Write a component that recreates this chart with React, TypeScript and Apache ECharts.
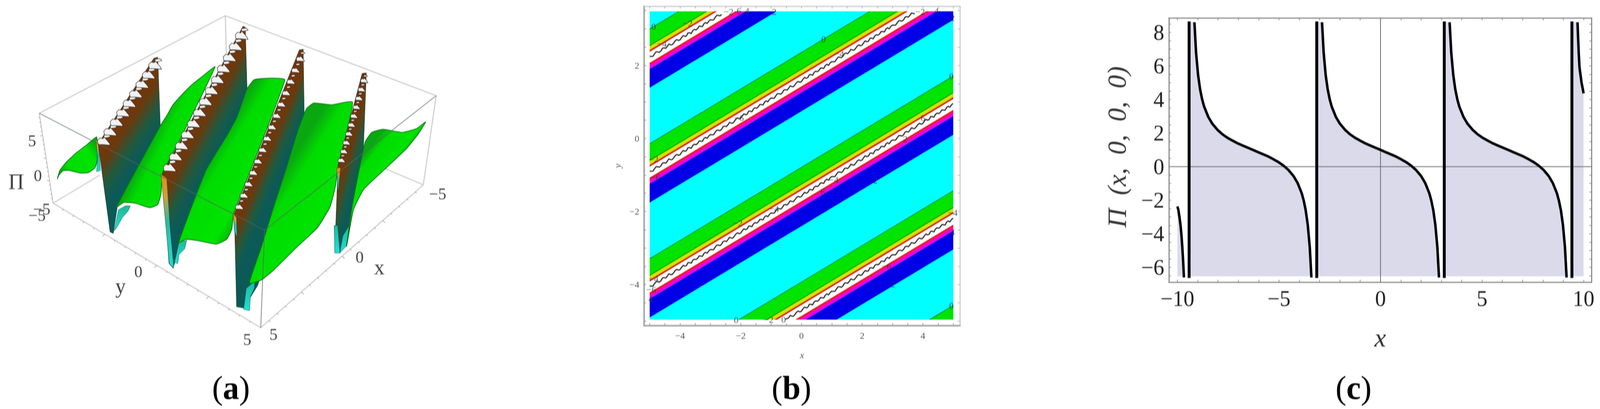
import React, { useEffect, useRef } from "react";
import * as echarts from "echarts";

const SERIF = "Liberation Serif";

/* ---------- panel (a): surface, in a 1560 x 1560 picture-unit space ---------- */
type P = [number, number];
const boxBack: P[][] = [
  [[122, 432], [700, 60], [1355, 365]],
  [[700, 60], [705, 300]],
  [[165, 775], [310, 668]],
  [[1315, 705], [1190, 640]],
  [[122, 432], [165, 775], [810, 1250], [1315, 705], [1355, 365]],
];
const boxFront: P[][] = [
  [[122, 432], [822, 878], [1355, 365]],
  [[822, 878], [810, 1250]],
];
const sheets: { pts: P[]; grad: [P, P] }[] = [
  { pts: [[178, 682], [186, 650], [205, 620], [235, 585], [270, 552], [300, 522], [303, 560], [302, 610], [295, 640], [275, 658], [250, 660], [215, 650], [195, 652], [183, 668]], grad: [[190, 660], [300, 560]] },
  { pts: [[362, 790], [385, 772], [420, 775], [465, 792], [490, 780], [500, 740], [505, 660], [560, 530], [668, 255], [632, 288], [592, 328], [560, 368], [536, 402], [520, 437], [500, 476]], grad: [[430, 620], [590, 720]] },
  { pts: [[555, 926], [576, 913], [616, 918], [672, 931], [704, 913], [720, 874], [726, 814], [885, 305], [840, 298], [800, 301], [788, 305], [768, 338], [736, 447], [708, 511], [640, 650]], grad: [[630, 640], [790, 760]] },
  { pts: [[775, 1080], [812, 1068], [850, 1030], [920, 945], [985, 870], [1025, 790], [1042, 710], [1050, 640], [1095, 390], [1030, 400], [975, 393], [952, 415], [925, 500], [890, 640], [850, 790], [810, 950]], grad: [[850, 720], [1030, 860]] },
  { pts: [[1076, 940], [1098, 800], [1130, 722], [1200, 640], [1262, 568], [1300, 510], [1322, 465], [1295, 490], [1250, 505], [1190, 493], [1155, 505], [1135, 540], [1122, 610], [1095, 780]], grad: [[1150, 560], [1230, 640]] },
];
const walls: { pts: P[]; r0: P; r1: P; far: P; blobs: number; scale: number }[] = [
  { pts: [[305, 548], [478, 222], [490, 218], [498, 480], [365, 785], [352, 890], [342, 885]], r0: [305, 548], r1: [484, 222], far: [498, 480], blobs: 9, scale: 1.25 },
  { pts: [[505, 660], [755, 100], [762, 104], [768, 360], [600, 800], [560, 925], [538, 1023], [525, 1005]], r0: [510, 650], r1: [752, 104], far: [768, 360], blobs: 13, scale: 1.25 },
  { pts: [[728, 815], [930, 190], [942, 188], [945, 430], [880, 800], [800, 1090], [757, 1175], [735, 1170]], r0: [732, 800], r1: [936, 192], far: [945, 430], blobs: 14, scale: 0.8 },
  { pts: [[1050, 630], [1125, 280], [1138, 278], [1128, 600], [1100, 780], [1078, 935], [1052, 965], [1040, 960]], r0: [1052, 620], r1: [1130, 282], far: [1128, 600], blobs: 10, scale: 0.72 },
];
const strips: { pts: P[]; kind: "orange" | "cyan" }[] = [
  { pts: [[298, 530], [306, 545], [312, 650], [300, 655], [303, 600]], kind: "orange" },
  { pts: [[500, 665], [518, 680], [528, 860], [540, 1023], [526, 1005]], kind: "orange" },
  { pts: [[724, 815], [735, 830], [736, 905], [728, 880]], kind: "orange" },
  { pts: [[1046, 640], [1058, 640], [1050, 735]], kind: "orange" },
  { pts: [[355, 880], [368, 800], [390, 785], [405, 785], [398, 805], [380, 830], [362, 870]], kind: "cyan" },
  { pts: [[542, 1002], [556, 924], [580, 916], [574, 949], [556, 971], [552, 1005]], kind: "cyan" },
  { pts: [[757, 1180], [765, 1100], [792, 1072], [790, 1100], [778, 1130], [775, 1185]], kind: "cyan" },
  { pts: [[1056, 965], [1065, 900], [1085, 860], [1078, 935]], kind: "cyan" },
  { pts: [[1038, 860], [1049, 860], [1056, 965], [1040, 965]], kind: "cyan" },
];
const blobBig: P[] = [[-16, -2], [-10, -10], [-2, -8], [0, -14], [6, -6], [14, 6], [16, 12], [-4, 10], [-14, 10]];
const blobSmall: P[] = [[-8, -4], [4, -6], [9, 0], [2, 3], [-7, 4]];

/* ---------- panel (b): contour bands y = x / 2 + c ---------- */
const bandTops = [5.5, 2.356, -0.79, -3.93, -7.07];
const bandEdges = [0, 0.46, 0.58, 0.63, 0.93, 0.99, 1.1, 1.61];
const bandColors = ["#00e400", "#c8e800", "#ff1010", "#ffffff", "#ff1010", "#f000e0", "#0000e6"];
const wiggle = [0.02, -0.01, -0.035, 0.005, 0.035, 0.01, -0.03, -0.02, 0.03, 0.015, -0.025, 0.0, 0.04, -0.005, -0.035, -0.01, 0.025, 0.03, -0.02, -0.03, 0.01, 0.035, -0.015, -0.025, 0.03, 0.005, -0.04, 0.015, 0.02, -0.02, -0.01, 0.03, 0.0, -0.035, 0.02, 0.025, -0.03, 0.01];
const contourX = [-4.87, -3.75, -4.6, -2.4, -2.06, -1.79, -0.9, 0.73, 1.24, 3.91, 4.45, 4.98, 4.94, -4.87, -2.06, -4.82, 4.0, 3.42, 2.44, 0.7, 1.06, -2.1, -0.9, 4.98, 4.98, 2.8, 3.02, 4.94, -2.15, -1.08, -0.59, -4.95, -4.87, -4.97];
const contourY = [3.06, 3.15, 2.6, 3.47, 3.49, 3.49, 3.47, 2.72, 2.32, 3.47, 3.49, 3.3, 1.71, -0.57, 0.56, -1.06, 0.56, -0.01, -1.14, -1.45, -1.13, -2.32, -1.92, -2.03, -2.57, -3.5, -3.99, -4.57, -4.97, -4.96, -4.96, -4.14, -3.84, -4.39];
const contourText = ["0", "−2", "−4", "−2", "6", "4", "2", "0", "−4", "−2", "4", "2", "0", "−2", "−6", "−6", "6", "2", "2", "6", "−4", "−2", "−4", "−4", "4", "−6", "2", "0", "0", "−2", "0", "−6", "−4", "4"];
const bTicksX = [-5, -4.5, -4, -3.5, -3, -2.5, -2, -1.5, -1, -0.5, 0, 0.5, 1, 1.5, 2, 2.5, 3, 3.5, 4, 4.5, 5];
const bTicksY = [-5, -4.5, -4, -3.5, -3, -2.5, -2, -1.5, -1, -0.5, 0, 0.5, 1, 1.5, 2, 2.5, 3, 3.5];
const bLabelsX = [-4, -2, 0, 2, 4];
const bLabelsY = [-4, -2, 0, 2];

/* ---------- panel (c): curve values ---------- */
const cLabelsX = [-10, -5, 0, 5, 10];
const cLabelsY = [-6, -4, -2, 0, 2, 4, 6, 8];
const cTicksX = [-10, -9, -8, -7, -6, -5, -4, -3, -2, -1, 0, 1, 2, 3, 4, 5, 6, 7, 8, 9, 10];
const cTicksY = [-6.5, -6, -5.5, -5, -4.5, -4, -3.5, -3, -2.5, -2, -1.5, -1, -0.5, 0, 0.5, 1, 1.5, 2, 2.5, 3, 3.5, 4, 4.5, 5, 5.5, 6, 6.5, 7, 7.5, 8, 8.5];
const cValues = [8.6, 6.8, 5.46, 4.6, 4.01, 3.57, 2.97, 2.56, 2.2, 1.93, 1.72, 1.55, 1.39, 1.26, 1.13, 1, 0.87, 0.74, 0.61, 0.45, 0.28, 0.07, -0.2, -0.56, -0.97, -1.57, -2.01, -2.6, -3.46, -4.8, -6.6];
const branchMidX = [-2.88, -2.8, -2.7, -2.6, -2.5, -2.4, -2.2, -2, -1.75, -1.5, -1.25, -1, -0.75, -0.5, -0.25, 0, 0.25, 0.5, 0.75, 1, 1.25, 1.5, 1.75, 2, 2.2, 2.4, 2.5, 2.6, 2.7, 2.8, 2.88];
const branchLeftX = branchMidX.map((v) => v - 6.283);
const branchRightX = branchMidX.map((v) => v + 6.283);
const edgeLeftX = [-10, -9.95, -9.9, -9.85, -9.8, -9.76, -9.72, -9.68];
const edgeLeftY = [-2.37, -2.6, -3.0, -3.46, -4.1, -4.8, -5.6, -6.6];
const edgeRightX = [9.7, 9.72, 9.76, 9.8, 9.85, 9.9, 9.95, 10];
const edgeRightY = [8.6, 8.0, 6.8, 5.9, 5.46, 5.0, 4.7, 4.37];
const poles = [-9.425, -3.14, 3.14, 9.425];
const cTop = 8.65;
const cBottom = -6.63;
const cFillBase = -6.53;

function clipBand(poly: P[], xr: P, yr: P): P[] {
  const edges: [(p: P) => boolean, (a: P, b: P) => P][] = [
    [(p) => p[0] >= xr[0], (a, b) => { const t = (xr[0] - a[0]) / (b[0] - a[0]); return [xr[0], a[1] + t * (b[1] - a[1])]; }],
    [(p) => p[0] <= xr[1], (a, b) => { const t = (xr[1] - a[0]) / (b[0] - a[0]); return [xr[1], a[1] + t * (b[1] - a[1])]; }],
    [(p) => p[1] >= yr[0], (a, b) => { const t = (yr[0] - a[1]) / (b[1] - a[1]); return [a[0] + t * (b[0] - a[0]), yr[0]]; }],
    [(p) => p[1] <= yr[1], (a, b) => { const t = (yr[1] - a[1]) / (b[1] - a[1]); return [a[0] + t * (b[0] - a[0]), yr[1]]; }],
  ];
  let out = poly;
  for (const [inside, cross] of edges) {
    const res: P[] = [];
    out.forEach((cur, i) => {
      const prev = out[(i + out.length - 1) % out.length];
      if (inside(cur)) {
        if (!inside(prev)) res.push(cross(prev, cur));
        res.push(cur);
      } else if (inside(prev)) res.push(cross(prev, cur));
    });
    out = res;
    if (!out.length) break;
  }
  return out;
}

const B_X: P = [-5, 5];
const B_Y: P = [-4.96, 3.48];

function buildOption() {
  const LG = echarts.graphic.LinearGradient;
  const sheetStops = [
    { offset: 0, color: "#0aa810" },
    { offset: 0.22, color: "#00dc00" },
    { offset: 0.78, color: "#00e400" },
    { offset: 1, color: "#06b008" },
  ];
  const wallStops = [
    { offset: 0, color: "#7a3206" },
    { offset: 0.35, color: "#6a3a0e" },
    { offset: 0.7, color: "#1f5a40" },
    { offset: 1, color: "#0b5a58" },
  ];
  const orangeStops = [
    { offset: 0, color: "#f08a10" },
    { offset: 0.25, color: "#c8a040" },
    { offset: 0.5, color: "#30b8a0" },
    { offset: 1, color: "#20dcd0" },
  ];
  const cyanStops = [
    { offset: 0, color: "#1fb898" },
    { offset: 1, color: "#20e0d8" },
  ];

  type Item = { render: (api: any) => any };
  const items: Item[] = [];
  const polyline = (pts: P[], stroke: string, w: number): Item => ({
    render: (api) => ({
      type: "polyline",
      shape: { points: pts.map((p) => api.coord(p)) },
      style: { stroke, lineWidth: w, fill: "none" },
    }),
  });
  boxBack.forEach((l) => items.push(polyline(l, "#c9c9c9", 2.5)));
  const tickEdges: [P, P, P][] = [
    [[165, 775], [810, 1250], [-8, 8]],
    [[810, 1250], [1315, 705], [8, 8]],
    [[122, 432], [165, 775], [-8, 0]],
  ];
  tickEdges.forEach(([a, b, d]) => {
    for (let i = 1; i < 20; i++) {
      const t = i / 20;
      const s: P = [a[0] + t * (b[0] - a[0]), a[1] + t * (b[1] - a[1])];
      const k = i % 5 === 0 ? 1 : 0.5;
      items.push(polyline([s, [s[0] + d[0] * k, s[1] + d[1] * k]], "#999999", 1.5));
    }
  });

  const sheetItem = (s: (typeof sheets)[number]): Item => ({
    render: (api) => {
      const g0 = api.coord(s.grad[0]);
      const g1 = api.coord(s.grad[1]);
      return {
        type: "polygon",
        shape: { points: s.pts.map((p) => api.coord(p)), smooth: 0.15 },
        style: { fill: new LG(g0[0], g0[1], g1[0], g1[1], sheetStops, true), stroke: "#0a7a14", lineWidth: 2 },
      };
    },
  });
  const wallItem = (w: (typeof walls)[number]): Item[] => {
    const res: Item[] = [
      {
        render: (api) => {
          const p0 = api.coord(w.r0);
          const p1 = api.coord(w.r1);
          const f = api.coord(w.far);
          const vx = p1[0] - p0[0];
          const vy = p1[1] - p0[1];
          const len = Math.hypot(vx, vy);
          const nx = -vy / len;
          const ny = vx / len;
          const d = (f[0] - p0[0]) * nx + (f[1] - p0[1]) * ny;
          return {
            type: "polygon",
            shape: { points: w.pts.map((p) => api.coord(p)) },
            style: { fill: new LG(p0[0], p0[1], p0[0] + nx * d, p0[1] + ny * d, wallStops, true), stroke: "#1a3a2a", lineWidth: 1 },
          };
        },
      },
    ];
    const n = w.blobs * 2;
    for (let i = 0; i < n; i++) {
      const t = (i + 0.5) / n;
      const cx = w.r0[0] + t * (w.r1[0] - w.r0[0]) + 10 * w.scale;
      const cy = w.r0[1] + t * (w.r1[1] - w.r0[1]);
      const shape = i % 2 === 0 ? blobBig : blobSmall;
      const pts = shape.map((p) => [cx + p[0] * w.scale, cy + p[1] * w.scale] as P);
      res.push({
        render: (api) => ({
          type: "polygon",
          shape: { points: pts.map((p) => api.coord(p)) },
          style: { fill: "#f2f2f2", stroke: "#2a2a2a", lineWidth: 1.2 },
        }),
      });
    }
    return res;
  };
  const stripRender = (s: (typeof strips)[number]): Item => ({
    render: (api) => ({
      type: "polygon",
      shape: { points: s.pts.map((p) => api.coord(p)) },
      style: { fill: new LG(0, 0, 0, 1, s.kind === "orange" ? orangeStops : cyanStops), stroke: "#0a4a48", lineWidth: 0.8 },
    }),
  });

  items.push(sheetItem(sheets[0]), stripRender(strips[0]));
  for (let i = 0; i < 4; i++) {
    items.push(...wallItem(walls[i]));
    if (i > 0) items.push(stripRender(strips[i]));
    items.push(stripRender(strips[4 + i]));
    if (i === 3) items.push(stripRender(strips[8]));
    items.push(sheetItem(sheets[i + 1]));
  }
  boxFront.forEach((l) => items.push(polyline(l, "rgba(90,100,100,0.75)", 2)));

  const bandItems: { pts: P[]; color: string }[] = [];
  bandTops.forEach((top) => {
    bandColors.forEach((color, i) => {
      const c0 = top - bandEdges[i];
      const c1 = top - bandEdges[i + 1];
      const poly: P[] = [[-5, -2.5 + c0], [5, 2.5 + c0], [5, 2.5 + c1], [-5, -2.5 + c1]];
      const clipped = clipBand(poly, B_X, B_Y);
      if (clipped.length) bandItems.push({ pts: clipped, color });
    });
  });
  const contourLines: P[][] = [];
  bandTops.forEach((top) => {
    [0, 0.46].forEach((e) => {
      const c = top - e;
      const x0 = Math.max(B_X[0], 2 * (B_Y[0] - c));
      const x1 = Math.min(B_X[1], 2 * (B_Y[1] - c));
      if (x1 > x0) contourLines.push([[x0, x0 / 2 + c], [x1, x1 / 2 + c]]);
    });
  });
  const waveSeries = bandTops.slice(0, 4).map((top) => {
    const data: number[][] = [];
    for (let i = 0; i <= 190; i++) {
      const x = -5 + i * 0.0526;
      const y = x / 2 + top - 0.77 + wiggle[i % wiggle.length];
      if (y >= B_Y[0] && y <= B_Y[1] - 0.02) data.push([x, y]);
    }
    return {
      type: "line", xAxisIndex: 1, yAxisIndex: 1, data, showSymbol: false, silent: true, z: 5,
      lineStyle: { color: "#222222", width: 2.8 },
    };
  });

  const pair = (xs: number[], ys: number[]) => xs.map((x, i) => [x, ys[i]]);
  const branches = [
    pair(edgeLeftX, edgeLeftY),
    pair(branchLeftX, cValues),
    pair(branchMidX, cValues),
    pair(branchRightX, cValues),
    pair(edgeRightX, edgeRightY),
  ];
  const fills = [
    branches[0],
    [[poles[0], cTop], ...branches[1]],
    [[poles[1], cTop], ...branches[2]],
    [[poles[2], cTop], ...branches[3]],
    [[poles[3], cTop], ...branches[4]],
  ];
  const cFillSeries = fills.map((data) => ({
    type: "line", xAxisIndex: 3, yAxisIndex: 3, data, showSymbol: false, silent: true, z: 2,
    lineStyle: { width: 0 },
    areaStyle: { color: "#dadaeb", opacity: 1, origin: cFillBase },
  }));
  const cCurveSeries = branches.map((data) => ({
    type: "line", xAxisIndex: 3, yAxisIndex: 3, data, showSymbol: false, silent: true, z: 4,
    lineStyle: { color: "#000000", width: 6.5 },
  }));
  const cPoleSeries = poles.map((p) => ({
    type: "line", xAxisIndex: 3, yAxisIndex: 3, data: [[p, cBottom], [p, cTop]], showSymbol: false, silent: true, z: 4,
    lineStyle: { color: "#000000", width: 7.5 },
  }));
  const cZeroLines = [
    [[0, -6.88], [0, 8.86]],
    [[-10.42, 0], [10.39, 0]],
  ].map((data) => ({
    type: "line", xAxisIndex: 3, yAxisIndex: 3, data, showSymbol: false, silent: true, z: 3,
    lineStyle: { color: "#6a6a6a", width: 2 },
  }));

  const minus = (v: number) => String(v).replace("-", "−");
  const frameAxis = (extra: any) => ({
    type: "value",
    splitLine: { show: false },
    axisLine: { show: true, onZero: false, lineStyle: { color: "#777777", width: 2.5 } },
    ...extra,
  });
  const hidden = (extra: any) => ({ type: "value", show: false, min: 0, max: 1560, splitLine: { show: false }, ...extra });

  const bLine = { show: true, onZero: false, lineStyle: { color: "#ababab", width: 4.5 } };
  const bLabel = { fontFamily: SERIF, fontSize: 24, color: "#555555" };
  const cLabel = { fontFamily: SERIF, fontSize: 56, color: "#222222" };
  const tick = (values: number[], len: number, color: string) => ({
    show: true, inside: true, length: len, customValues: values, lineStyle: { color, width: 1.5 },
  });

  const text = (t: string, x: number, y: number, size: number) => ({
    type: "text", x, y, silent: true,
    style: { text: t, x: 0, y: 0, fontFamily: SERIF, fontSize: size, fill: "#444444", textAlign: "center", textVerticalAlign: "middle" },
  });
  const caption = (letter: string, x: number) => ({
    type: "text", x, y: 994, silent: true,
    style: {
      text: `{p|(}{b|${letter}}{p|)}`,
      x: 0, y: 0, align: "center", verticalAlign: "middle", textAlign: "center", textVerticalAlign: "middle",
      rich: {
        p: { fontFamily: SERIF, fontSize: 84, fill: "#000000", color: "#000000" },
        b: { fontFamily: SERIF, fontSize: 84, fontWeight: "bold", fill: "#000000", color: "#000000" },
      },
    },
  });

  return {
    animation: false,
    backgroundColor: "#ffffff",
    grid: [
      { left: 0, top: 0, width: 1300, height: 1048 },
      { left: 1667, top: 16, width: 818, height: 818 },
      { left: 3026, top: 46, width: 1094, height: 677 },
    ],
    xAxis: [
      hidden({ gridIndex: 0 }),
      {
        type: "value", gridIndex: 1, min: -5.19, max: 5.22, position: "bottom", splitLine: { show: false },
        axisLine: bLine, axisTick: tick(bTicksX, 6, "#888888"),
        axisLabel: { ...bLabel, customValues: bLabelsX, formatter: minus, margin: 14 },
        name: "x", nameLocation: "middle", nameGap: 64,
        nameTextStyle: { fontFamily: SERIF, fontSize: 24, fontStyle: "italic", color: "#555555" },
      },
      {
        type: "value", gridIndex: 1, min: -5.19, max: 5.22, position: "top", splitLine: { show: false },
        axisLine: { ...bLine, lineStyle: { color: "#c4c4c4", width: 2.5 } }, axisTick: tick(bTicksX, 6, "#aaaaaa"), axisLabel: { show: false },
      },
      frameAxis({
        gridIndex: 2, min: -10.42, max: 10.39, position: "bottom",
        axisTick: tick(cTicksX, 6, "#777777"),
        axisLabel: { ...cLabel, customValues: cLabelsX, formatter: minus, margin: 14 },
        name: "x", nameLocation: "middle", nameGap: 108,
        nameTextStyle: { fontFamily: SERIF, fontSize: 68, fontStyle: "italic", color: "#333333" },
      }),
      frameAxis({
        gridIndex: 2, min: -10.42, max: 10.39, position: "top",
        axisTick: tick(cTicksX, 6, "#777777"), axisLabel: { show: false },
      }),
    ],
    yAxis: [
      hidden({ gridIndex: 0, inverse: true }),
      {
        type: "value", gridIndex: 1, min: -5.12, max: 3.62, position: "left", splitLine: { show: false },
        axisLine: bLine, axisTick: tick(bTicksY, 6, "#888888"),
        axisLabel: { ...bLabel, customValues: bLabelsY, formatter: minus, margin: 12 },
        name: "y", nameLocation: "middle", nameGap: 56, nameRotate: 90,
        nameTextStyle: { fontFamily: SERIF, fontSize: 24, fontStyle: "italic", color: "#555555" },
      },
      {
        type: "value", gridIndex: 1, min: -5.12, max: 3.62, position: "right", splitLine: { show: false },
        axisLine: { ...bLine, lineStyle: { color: "#c4c4c4", width: 2.5 } }, axisTick: tick(bTicksY, 6, "#aaaaaa"), axisLabel: { show: false },
      },
      frameAxis({
        gridIndex: 2, min: -6.88, max: 8.86, position: "left",
        axisTick: tick(cTicksY, 6, "#777777"),
        axisLabel: { ...cLabel, customValues: cLabelsY, formatter: minus, margin: 12 },
        name: "Π  (x,  0,  0,  0)", nameLocation: "middle", nameGap: 100, nameRotate: 90,
        nameTextStyle: { fontFamily: SERIF, fontSize: 68, fontStyle: "italic", color: "#333333", padding: [0, 0, 0, 16] },
      }),
      frameAxis({
        gridIndex: 2, min: -6.88, max: 8.86, position: "right",
        axisTick: tick(cTicksY, 6, "#777777"), axisLabel: { show: false },
      }),
    ],
    graphic: [
      text("Π", 42, 466, 56),
      text("5", 83, 361, 42),
      text("0", 98, 450, 42),
      text("−5", 108, 536, 42),
      text("−5", 96, 552, 42),
      text("−5", 1133, 497, 42),
      text("0", 931, 659, 42),
      text("x", 982, 685, 54),
      text("5", 708, 857, 42),
      text("5", 640, 870, 42),
      text("0", 358, 696, 42),
      text("y", 312, 733, 54),
      caption("a", 598),
      caption("b", 2049),
      caption("c", 3504),
    ],
    series: [
      {
        type: "custom", xAxisIndex: 0, yAxisIndex: 0, coordinateSystem: "cartesian2d", clip: false, silent: true,
        data: items.map((_, i) => [i, 0]),
        renderItem: (params: any, api: any) => items[params.dataIndex].render(api),
      },
      {
        type: "custom", xAxisIndex: 1, yAxisIndex: 1, coordinateSystem: "cartesian2d", clip: false, silent: true, z: 1,
        data: [0],
        renderItem: (_: any, api: any) => {
          const a = api.coord([B_X[0], B_Y[1]]);
          const b = api.coord([B_X[1], B_Y[0]]);
          return { type: "rect", shape: { x: a[0], y: a[1], width: b[0] - a[0], height: b[1] - a[1] }, style: { fill: "#00ffff" } };
        },
      },
      {
        type: "custom", xAxisIndex: 1, yAxisIndex: 1, coordinateSystem: "cartesian2d", clip: false, silent: true, z: 2,
        data: bandItems.map((_, i) => [i, 0]),
        renderItem: (params: any, api: any) => {
          const b = bandItems[params.dataIndex];
          return { type: "polygon", shape: { points: b.pts.map((p) => api.coord(p)) }, style: { fill: b.color } };
        },
      },
      {
        type: "custom", xAxisIndex: 1, yAxisIndex: 1, coordinateSystem: "cartesian2d", clip: false, silent: true, z: 3,
        data: contourLines.map((_, i) => [i, 0]),
        renderItem: (params: any, api: any) => ({
          type: "polyline",
          shape: { points: contourLines[params.dataIndex].map((p) => api.coord(p)) },
          style: { stroke: "#0b7a30", lineWidth: 1.6, fill: "none" },
        }),
      },
      ...waveSeries,
      {
        type: "scatter", xAxisIndex: 1, yAxisIndex: 1, z: 6, silent: true, symbolSize: 1,
        itemStyle: { color: "rgba(0,0,0,0)" },
        data: contourX.map((x, i) => [x, contourY[i]]),
        label: {
          show: true, position: "inside", fontFamily: SERIF, fontSize: 24, color: "#2a3a3a",
          formatter: (p: any) => contourText[p.dataIndex],
        },
      },
      ...cFillSeries,
      ...cZeroLines,
      ...cCurveSeries,
      ...cPoleSeries,
    ],
  };
}

export default function App() {
  const ref = useRef<HTMLDivElement>(null);
  useEffect(() => {
    document.body.style.margin = "0";
    document.documentElement.style.overflow = "hidden";
    const chart = echarts.init(ref.current!, undefined, { renderer: "svg" });
    chart.setOption(buildOption() as any);
    return () => chart.dispose();
  }, []);
  // The browser viewport can be narrower than the 4142 px layout: fit the whole width into it.
  const fit = Math.min(1, window.innerWidth / 4142);
  return (
    <div
      ref={ref}
      style={{
        width: 4142,
        height: 1048,
        overflow: "hidden",
        filter: "blur(0.8px)",
        transform: `scaleX(${fit})`,
        transformOrigin: "0 0",
      }}
    />
  );
}
